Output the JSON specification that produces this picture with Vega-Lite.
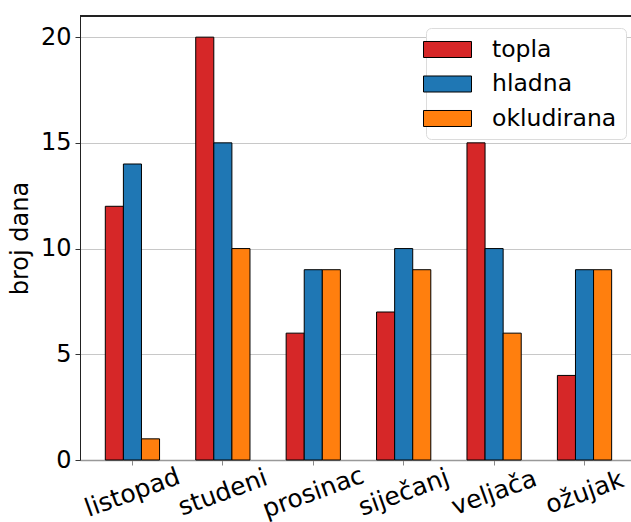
{
  "$schema": "https://vega.github.io/schema/vega-lite/v6.json",
  "width": 551,
  "height": 444,
  "autosize": {"type": "none"},
  "padding": {"left": 80, "top": 16, "right": 0, "bottom": 62},
  "config": {"font": "DejaVu Sans", "view": {"stroke": null}},
  "data": {
    "values": [
      {"mjesec": "listopad", "fronta": "topla", "dana": 12},
      {"mjesec": "listopad", "fronta": "hladna", "dana": 14},
      {"mjesec": "listopad", "fronta": "okludirana", "dana": 1},
      {"mjesec": "studeni", "fronta": "topla", "dana": 20},
      {"mjesec": "studeni", "fronta": "hladna", "dana": 15},
      {"mjesec": "studeni", "fronta": "okludirana", "dana": 10},
      {"mjesec": "prosinac", "fronta": "topla", "dana": 6},
      {"mjesec": "prosinac", "fronta": "hladna", "dana": 9},
      {"mjesec": "prosinac", "fronta": "okludirana", "dana": 9},
      {"mjesec": "siječanj", "fronta": "topla", "dana": 7},
      {"mjesec": "siječanj", "fronta": "hladna", "dana": 10},
      {"mjesec": "siječanj", "fronta": "okludirana", "dana": 9},
      {"mjesec": "veljača", "fronta": "topla", "dana": 15},
      {"mjesec": "veljača", "fronta": "hladna", "dana": 10},
      {"mjesec": "veljača", "fronta": "okludirana", "dana": 6},
      {"mjesec": "ožujak", "fronta": "topla", "dana": 4},
      {"mjesec": "ožujak", "fronta": "hladna", "dana": 9},
      {"mjesec": "ožujak", "fronta": "okludirana", "dana": 9}
    ]
  },
  "layer": [
    {
      "mark": {"type": "bar", "stroke": "black", "strokeWidth": 1},
      "encoding": {
        "x": {
          "field": "mjesec",
          "type": "nominal",
          "sort": ["listopad", "studeni", "prosinac", "siječanj", "veljača", "ožujak"],
          "scale": {"paddingInner": 0, "paddingOuter": 0.047, "align": 0.85},
          "axis": {
            "title": null,
            "labelAngle": -20,
            "labelAlign": "center",
            "labelBaseline": "middle",
            "labelFontSize": 25,
            "labelColor": "black",
            "labelPadding": 27,
            "labelOverlap": false,
            "tickSize": 5,
            "tickColor": "#888",
            "domainColor": "#999",
            "domainWidth": 1.5,
            "grid": false
          }
        },
        "xOffset": {
          "field": "fronta",
          "type": "nominal",
          "sort": ["topla", "hladna", "okludirana"],
          "scale": {"paddingInner": 0, "paddingOuter": 1}
        },
        "y": {
          "field": "dana",
          "type": "quantitative",
          "scale": {"domain": [0, 21], "nice": false},
          "axis": {
            "values": [0, 5, 10, 15, 20],
            "title": "broj dana",
            "titleFontSize": 24,
            "titleFontWeight": "normal",
            "titleColor": "black",
            "titlePadding": 8,
            "labelFontSize": 24,
            "labelColor": "black",
            "labelPadding": 4,
            "tickSize": 5,
            "tickColor": "#333",
            "domainColor": "#222",
            "grid": true,
            "gridColor": "#c8c8c8"
          }
        },
        "color": {
          "field": "fronta",
          "type": "nominal",
          "sort": ["topla", "hladna", "okludirana"],
          "scale": {"domain": ["topla", "hladna", "okludirana"], "range": ["#d62728", "#1f77b4", "#ff7f0e"]},
          "legend": {
            "title": null,
            "orient": "none",
            "legendX": 346,
            "legendY": 12,
            "labelFontSize": 23.5,
            "labelColor": "black",
            "symbolType": "M-2,-0.667H2V0.667H-2Z",
            "symbolSize": 576,
            "symbolStrokeColor": "black",
            "symbolStrokeWidth": 1,
            "symbolOpacity": 1,
            "labelOffset": 32,
            "padding": 9,
            "rowPadding": 10.5,
            "strokeColor": "#dcdcdc",
            "fillColor": "white",
            "cornerRadius": 5
          }
        }
      }
    },
    {
      "mark": {"type": "rule", "color": "#222", "strokeWidth": 1},
      "encoding": {"y": {"datum": 21}}
    }
  ]
}
